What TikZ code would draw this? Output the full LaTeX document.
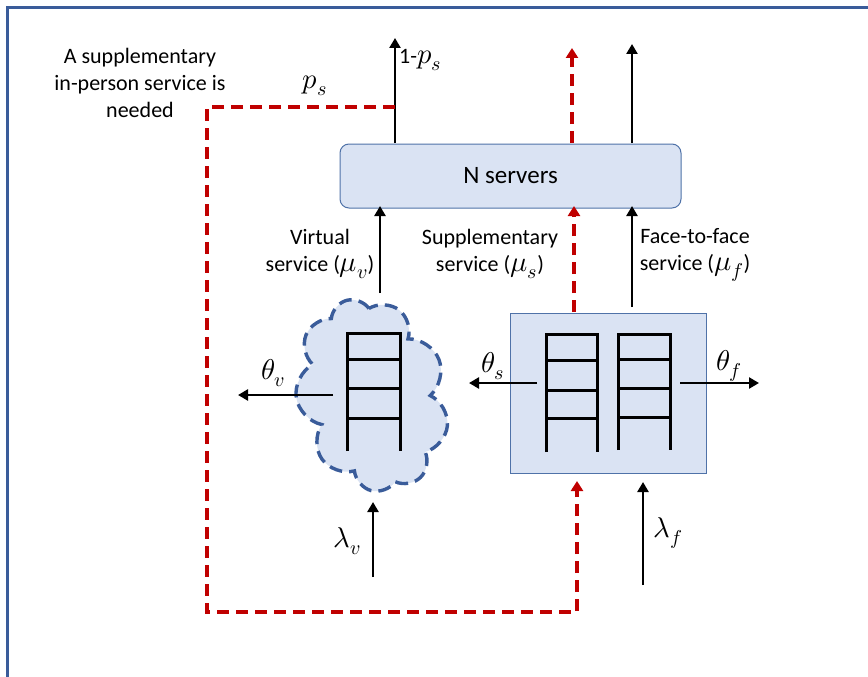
\documentclass[tikz,border=0pt]{standalone}
\usepackage{unicode-math}
\setmainfont{Carlito}
\setmathfont{Latin Modern Math}[Scale=1.3]
\usetikzlibrary{shapes.symbols,arrows.meta}
\definecolor{frameblue}{HTML}{3A5C9A}
\definecolor{boxfill}{HTML}{DAE3F3}
\definecolor{boxline}{HTML}{4F72A8}
\definecolor{darkred}{HTML}{C00000}
\tikzset{
  blk/.style={draw=black,line width=2.6pt,-{Triangle[width=11pt,length=10pt]}},
  redd/.style={draw=darkred,line width=3.4pt,dash pattern=on 12pt off 7pt,-{Triangle[width=12pt,length=10pt]}},
  ladder/.style={draw=black,line width=3pt},
  lbl/.style={font=\fontsize{22}{27}\selectfont,align=center,inner sep=0pt},
}
\begin{document}
\begin{tikzpicture}[x=1pt,y=-1pt]
\useasboundingbox (0,0) rectangle (868,677);
% frame
\draw[frameblue,line width=3pt] (7,677) -- (7,8) -- (868,8);
% N servers
\node[draw=boxline,fill=boxfill,rounded corners=9pt,line width=1pt,minimum width=341pt,minimum height=64pt,font=\fontsize{25}{30}\selectfont] (srv) at (510.5,176) {N servers};
% cloud
\node[cloud,cloud puffs=9,cloud puff arc=140,cloud ignores aspect,minimum width=150pt,minimum height=196pt,fill=boxfill,draw=frameblue,line width=3.4pt,dash pattern=on 13pt off 7pt,rotate=15] (cloud) at (372,395) {};
% square box
\node[draw=boxline,fill=boxfill,line width=1pt,minimum width=196pt,minimum height=160pt,inner sep=0pt] (box) at (608,393) {};
% ladders
\draw[ladder] (347,451) -- (347,333) -- (400,333) -- (400,451);
\foreach \y in {359,388,418} \draw[ladder] (347,\y) -- (400,\y);
\draw[ladder] (546,452) -- (546,334) -- (597,334) -- (597,452);
\foreach \y in {360,390,418} \draw[ladder] (546,\y) -- (597,\y);
\draw[ladder] (618,450) -- (618,334) -- (670,334) -- (670,450);
\foreach \y in {359,388,417} \draw[ladder] (618,\y) -- (670,\y);
% coordinates
\coordinate (o1s) at (395,143); \coordinate (o1e) at (395,38);
\coordinate (o2s) at (572,143); \coordinate (o2e) at (572,48);
\coordinate (o3s) at (632,143); \coordinate (o3e) at (632,44);
\coordinate (ps) at (395,107);
\coordinate (c1) at (207,107); \coordinate (c2) at (207,612); \coordinate (c3) at (577,612);
\coordinate (fbe) at (577,481);
\coordinate (i1s) at (380,293); \coordinate (i1e) at (380,206);
\coordinate (i2s) at (574,312); \coordinate (i2e) at (574,206);
\coordinate (i3s) at (632,307); \coordinate (i3e) at (632,206);
\coordinate (tvs) at (333,395); \coordinate (tve) at (238,395);
\coordinate (tss) at (537,383); \coordinate (tse) at (469,383);
\coordinate (tfs) at (680,383); \coordinate (tfe) at (759,383);
\coordinate (lvs) at (373,577); \coordinate (lve) at (373,502);
\coordinate (lfs) at (643,585); \coordinate (lfe) at (643,482);
% outputs
\draw[blk] (o1s) -- (o1e);
\draw[redd] (o2s) -- (o2e);
\draw[blk] (o3s) -- (o3e);
% feedback
\draw[redd] (ps) -- (c1) -- (c2) -- (c3) -- (fbe);
% inputs to servers
\draw[blk] (i1s) -- (i1e);
\draw[redd] (i2s) -- (i2e);
\draw[blk] (i3s) -- (i3e);
% abandonment
\draw[blk] (tvs) -- (tve);
\draw[blk] (tss) -- (tse);
\draw[blk] (tfs) -- (tfe);
% arrivals
\draw[blk] (lvs) -- (lve);
\draw[blk] (lfs) -- (lfe);
% labels
\node[lbl] (t1) at (140,83) {A supplementary\\in-person service is\\needed};
\node[lbl,anchor=west] (t2) at (399,60) {1-$p_s$};
\node[lbl] (t3) at (315,86) {$p_s$};
\node[lbl] (t4) at (320,254) {Virtual\\service ($\mu_v$)};
\node[lbl] (t5) at (490,254) {Supplementary\\service ($\mu_s$)};
\node[lbl] (t6) at (695,255) {Face-to-face\\service ($\mu_f$)};
\node[lbl] (t7) at (273,373) {$\theta_v$};
\node[lbl] (t8) at (493,366) {$\theta_s$};
\node[lbl] (t9) at (729,366) {$\theta_f$};
\node[lbl] (t10) at (347,541) {$\lambda_v$};
\node[lbl] (t11) at (668,533) {$\lambda_f$};
\end{tikzpicture}
\end{document}
